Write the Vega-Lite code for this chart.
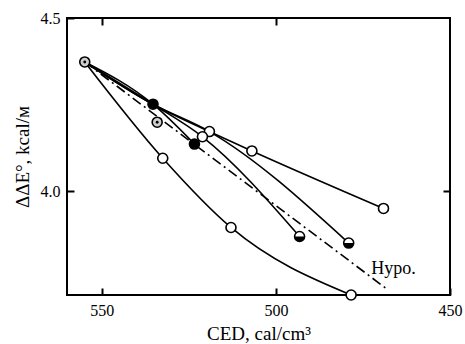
{
  "$schema": "https://vega.github.io/schema/vega-lite/v6.json",
  "width": 383,
  "height": 277,
  "autosize": "none",
  "padding": {"left": 67, "top": 18, "right": 15, "bottom": 49},
  "background": "white",
  "config": {
    "view": {"stroke": "black", "strokeWidth": 2},
    "font": "Liberation Serif",
    "axis": {
      "domain": false,
      "grid": false,
      "ticks": true,
      "tickColor": "black",
      "tickWidth": 2,
      "tickSize": 7,
      "offset": -7,
      "zindex": 1,
      "labelColor": "black",
      "labelFont": "Liberation Serif",
      "labelFontSize": 16,
      "titleFont": "Liberation Serif",
      "titleFontSize": 19,
      "titleFontWeight": "normal",
      "titleColor": "black"
    }
  },
  "datasets": {
    "lines": [
      {"series": "A", "ced": 554.9, "dE": 4.373},
      {"series": "A", "ced": 535.3, "dE": 4.251},
      {"series": "A", "ced": 519.1, "dE": 4.172},
      {"series": "A", "ced": 506.9, "dE": 4.116},
      {"series": "A", "ced": 469.1, "dE": 3.950},
      {"series": "B", "ced": 554.9, "dE": 4.373},
      {"series": "B", "ced": 535.3, "dE": 4.251},
      {"series": "B", "ced": 519.1, "dE": 4.172},
      {"series": "B", "ced": 479.1, "dE": 3.850},
      {"series": "C", "ced": 554.9, "dE": 4.373},
      {"series": "C", "ced": 535.3, "dE": 4.251},
      {"series": "C", "ced": 521.1, "dE": 4.157},
      {"series": "C", "ced": 493.2, "dE": 3.869},
      {"series": "E", "ced": 554.9, "dE": 4.373},
      {"series": "E", "ced": 535.3, "dE": 4.251},
      {"series": "E", "ced": 523.4, "dE": 4.136},
      {"series": "D", "ced": 554.9, "dE": 4.373},
      {"series": "D", "ced": 532.5, "dE": 4.095},
      {"series": "D", "ced": 512.9, "dE": 3.895},
      {"series": "D", "ced": 478.4, "dE": 3.700}
    ],
    "hypo": [
      {"ced": 554.9, "dE": 4.373},
      {"ced": 467.7, "dE": 3.714}
    ],
    "pts": [
      {"ced": 554.9, "dE": 4.373, "kind": "dotted"},
      {"ced": 534.1, "dE": 4.199, "kind": "dotted"},
      {"ced": 535.3, "dE": 4.251, "kind": "filled"},
      {"ced": 523.4, "dE": 4.136, "kind": "filled"},
      {"ced": 519.1, "dE": 4.172, "kind": "open"},
      {"ced": 521.1, "dE": 4.157, "kind": "open"},
      {"ced": 506.9, "dE": 4.116, "kind": "open"},
      {"ced": 469.1, "dE": 3.950, "kind": "open"},
      {"ced": 479.1, "dE": 3.850, "kind": "half"},
      {"ced": 493.2, "dE": 3.869, "kind": "half"},
      {"ced": 532.5, "dE": 4.095, "kind": "open"},
      {"ced": 512.9, "dE": 3.895, "kind": "open"},
      {"ced": 478.4, "dE": 3.700, "kind": "open"}
    ],
    "labels": [
      {"ced": 472.6, "dE": 3.776, "text": "Hypo."}
    ]
  },
  "resolve": {"axis": {"x": "independent", "y": "independent"}},
  "layer": [
    {
      "data": {"name": "hypo"},
      "mark": {"type": "point", "opacity": 0},
      "encoding": {
        "x": {"field": "ced", "type": "quantitative",
              "scale": {"domain": [450, 560], "reverse": true, "nice": false, "zero": false},
              "axis": {"orient": "top", "labels": false, "title": null, "values": [550, 500],
                       "ticks": true, "tickSize": 7, "offset": -7, "tickColor": "black", "tickWidth": 2}},
        "y": {"field": "dE", "type": "quantitative",
              "scale": {"domain": [3.7, 4.5], "nice": false, "zero": false},
              "axis": {"orient": "right", "labels": false, "title": null, "values": [4.0]}}
      }
    },
    {
      "data": {"name": "lines"},
      "transform": [{"filter": "datum.series != 'D'"}],
      "mark": {"type": "line", "color": "black", "strokeWidth": 1.6, "interpolate": "monotone", "clip": false},
      "encoding": {
        "x": {"field": "ced", "type": "quantitative",
              "axis": {"orient": "bottom", "values": [550, 500, 450], "title": "CED, cal/cm³",
                       "ticks": true, "tickSize": 7, "offset": -7, "tickColor": "black", "tickWidth": 2,
                       "labelPadding": 7, "titlePadding": 6, "labelFlush": false}},
        "y": {"field": "dE", "type": "quantitative",
              "axis": {"orient": "left", "values": [4.0, 4.5], "title": "ΔΔE°, kcal/м",
                       "labelPadding": 7, "titlePadding": 8, "labelFlush": false, "format": ".1f"}},
        "detail": {"field": "series"},
        "order": {"field": "ced", "sort": "descending"}
      }
    },
    {
      "data": {"name": "lines"},
      "transform": [{"filter": "datum.series == 'D'"}],
      "mark": {"type": "line", "color": "black", "strokeWidth": 1.6, "interpolate": "monotone", "clip": false},
      "encoding": {
        "x": {"field": "ced", "type": "quantitative", "axis": null},
        "y": {"field": "dE", "type": "quantitative", "axis": null},
        "order": {"field": "ced", "sort": "descending"}
      }
    },
    {
      "data": {"name": "hypo"},
      "mark": {"type": "line", "color": "black", "strokeWidth": 1.6, "strokeDash": [10, 4, 2, 4]},
      "encoding": {
        "x": {"field": "ced", "type": "quantitative", "axis": null},
        "y": {"field": "dE", "type": "quantitative", "axis": null}
      }
    },
    {
      "data": {"name": "pts"},
      "mark": {"type": "point", "shape": "circle", "size": 100, "filled": false, "stroke": "black", "strokeWidth": 1.6, "opacity": 1, "clip": false},
      "encoding": {
        "x": {"field": "ced", "type": "quantitative", "axis": null},
        "y": {"field": "dE", "type": "quantitative", "axis": null},
        "fill": {"field": "kind", "type": "nominal", "legend": null,
                 "scale": {"domain": ["open", "filled", "half", "dotted"], "range": ["white", "black", "white", "#cfcfcf"]}}
      }
    },
    {
      "data": {"name": "pts"},
      "transform": [{"filter": "datum.kind == 'half'"}],
      "mark": {"type": "point", "shape": "M -1 0 A 1 1 0 0 0 1 0 Z", "size": 100, "filled": true, "color": "black", "opacity": 1},
      "encoding": {
        "x": {"field": "ced", "type": "quantitative", "axis": null},
        "y": {"field": "dE", "type": "quantitative", "axis": null}
      }
    },
    {
      "data": {"name": "pts"},
      "transform": [{"filter": "datum.kind == 'dotted'"}],
      "mark": {"type": "point", "shape": "circle", "size": 8, "filled": true, "color": "black", "opacity": 1},
      "encoding": {
        "x": {"field": "ced", "type": "quantitative", "axis": null},
        "y": {"field": "dE", "type": "quantitative", "axis": null}
      }
    },
    {
      "data": {"name": "labels"},
      "mark": {"type": "text", "align": "left", "baseline": "middle", "font": "Liberation Serif", "fontSize": 18, "color": "black"},
      "encoding": {
        "x": {"field": "ced", "type": "quantitative", "axis": null},
        "y": {"field": "dE", "type": "quantitative", "axis": null},
        "text": {"field": "text"}
      }
    }
  ]
}
